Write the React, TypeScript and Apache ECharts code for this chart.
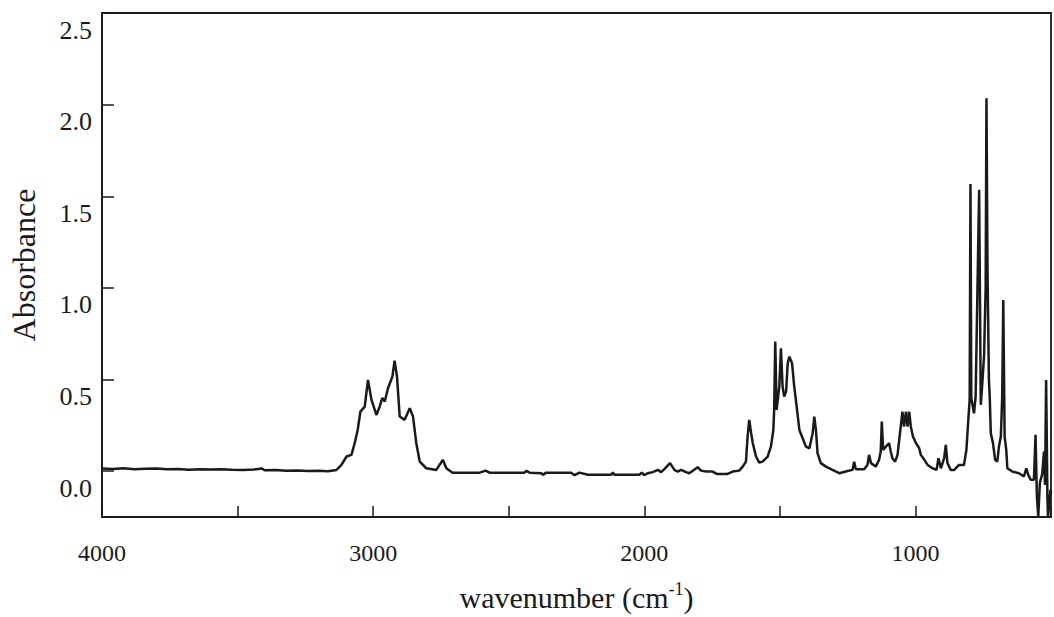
import React, { useEffect, useRef } from "react";
import * as echarts from "echarts";

const wavenumbers: number[] = [
  4000, 3960, 3920, 3880, 3840, 3800, 3760, 3720, 3680, 3640, 3600, 3560, 3520, 3480, 3440, 3410, 3400, 3360,
  3320, 3280, 3240, 3200, 3167, 3135, 3117, 3098, 3080, 3068, 3057, 3047, 3031, 3019, 3006, 2988, 2976, 2966,
  2957, 2945, 2929, 2921, 2912, 2902, 2884, 2865, 2853, 2841, 2828, 2804, 2767, 2743, 2730, 2707, 2607, 2585,
  2571, 2442, 2435, 2423, 2380, 2374, 2362, 2270, 2257, 2239, 2208, 2122, 2116, 2110, 2018, 2009, 2000, 1987,
  1969, 1950, 1938, 1926, 1905, 1889, 1877, 1864, 1846, 1834, 1803, 1791, 1772, 1748, 1733, 1693, 1674, 1650,
  1637, 1625, 1619, 1613, 1606, 1600, 1588, 1576, 1564, 1545, 1533, 1524, 1521, 1517, 1512, 1502, 1496, 1490,
  1484, 1477, 1471, 1465, 1455, 1447, 1438, 1428, 1416, 1404, 1391, 1379, 1373, 1367, 1361, 1349, 1330, 1306,
  1281, 1257, 1232, 1226, 1220, 1189, 1177, 1171, 1164, 1146, 1134, 1128, 1124, 1119, 1109, 1097, 1091, 1085,
  1075, 1066, 1057, 1048, 1042, 1035, 1029, 1023, 1017, 1009, 998, 986, 980, 967, 955, 937, 922, 915, 906, 894,
  888, 882, 870, 857, 839, 821, 812, 805, 800, 797, 794, 784, 778, 765, 759, 755, 747, 741, 738, 734, 729, 726,
  722, 714, 706, 698, 692, 685, 680, 676, 671, 665, 661, 643, 618, 600, 591, 584, 575, 563, 557, 552, 547, 541,
  532, 526, 522, 518, 513, 511, 502, 500,
];

// Absorbance read at each wavenumber above
const absorbance: number[] = [
  0.014, 0.012, 0.016, 0.011, 0.013, 0.015, 0.01, 0.012, 0.008, 0.01, 0.009, 0.011, 0.008, 0.006, 0.009, 0.014, 0.005, 0.006,
  0.003, 0.004, 0.001, 0.002, 0.0, 0.007, 0.034, 0.08, 0.089, 0.154, 0.225, 0.325, 0.352, 0.498, 0.389, 0.307, 0.352, 0.4,
  0.38, 0.454, 0.516, 0.603, 0.516, 0.298, 0.28, 0.344, 0.298, 0.154, 0.052, 0.016, 0.007, 0.062, 0.016, -0.008, -0.008, 0.003,
  -0.008, -0.008, 0.002, -0.008, -0.011, -0.02, -0.008, -0.008, -0.022, -0.008, -0.019, -0.019, -0.008, -0.019, -0.019, -0.008, -0.022, -0.011,
  -0.005, 0.007, -0.005, 0.011, 0.044, 0.007, -0.002, 0.007, -0.005, -0.011, 0.022, 0.003, -0.002, -0.002, -0.015, -0.015, -0.002, 0.003,
  0.025, 0.052, 0.189, 0.28, 0.209, 0.154, 0.08, 0.047, 0.052, 0.08, 0.134, 0.225, 0.334, 0.707, 0.334, 0.462, 0.671, 0.462,
  0.407, 0.434, 0.589, 0.625, 0.589, 0.462, 0.352, 0.225, 0.18, 0.134, 0.125, 0.207, 0.298, 0.225, 0.098, 0.044, 0.025, 0.007,
  -0.011, -0.002, 0.007, 0.052, 0.011, 0.011, 0.034, 0.089, 0.044, 0.025, 0.062, 0.107, 0.271, 0.116, 0.134, 0.153, 0.107, 0.071,
  0.052, 0.089, 0.207, 0.325, 0.243, 0.325, 0.243, 0.325, 0.243, 0.189, 0.153, 0.125, 0.089, 0.062, 0.034, 0.016, 0.007, 0.071, 0.016, 0.071,
  0.143, 0.045, 0.007, 0.007, 0.034, 0.034, 0.116, 0.28, 0.389, 1.567, 0.4, 0.316, 0.407, 1.535, 0.362, 0.444, 0.625, 1.0, 2.035, 1.08, 0.5, 0.407,
  0.207, 0.153, 0.062, 0.052, 0.134, 0.189, 0.4, 0.934, 0.189, 0.116, 0.016, -0.002, -0.011, -0.029, 0.016, -0.02, -0.047, -0.047, 0.198, -0.139, -0.248, -0.064,
  -0.011, 0.107, -0.075, 0.498, -0.157, -0.25, -0.102, -0.12,
];

// Axis ranges and tick settings
const xRange: number[] = [500, 4000];
const yRange: number[] = [-0.25, 2.5];
const xTickStep = 500;
const xLabelStep = 1000;
const yLabelStep = 0.5;

const FONT = "Liberation Serif";
const INK = "#1a1a1a";

export default function App() {
  const ref = useRef<HTMLDivElement>(null);

  useEffect(() => {
    if (!ref.current) return;
    const chart = echarts.init(ref.current, undefined, { renderer: "svg" });
    const data = wavenumbers.map((w, i) => [w, absorbance[i]]);
    chart.setOption({
      animation: false,
      backgroundColor: "#ffffff",
      grid: {
        left: 102,
        right: 2,
        top: 13,
        bottom: 100,
        show: true,
        borderColor: INK,
        borderWidth: 1.8,
        backgroundColor: "transparent",
      },
      xAxis: {
        type: "value",
        min: xRange[0],
        max: xRange[1],
        inverse: true,
        interval: xTickStep,
        splitLine: { show: false },
        axisLine: { show: true, onZero: false, lineStyle: { color: INK, width: 1.8 } },
        axisTick: { show: true, inside: true, length: 11, lineStyle: { color: INK, width: 1.5 } },
        axisLabel: {
          margin: 24,
          formatter: (v: number) => (v % xLabelStep === 0 ? `{v|${v}}` : ""),
          rich: {
            v: { fontFamily: FONT, fontSize: 24, color: INK },
          },
        },
        name: "{t|wavenumber (cm}{s|-1}{t|)}",
        nameLocation: "middle",
        nameGap: 63,
        nameTextStyle: {
          rich: {
            t: { fontFamily: FONT, fontSize: 30, color: INK, lineHeight: 34 },
            s: { fontFamily: FONT, fontSize: 18, color: INK, verticalAlign: "top", lineHeight: 20 },
          },
        },
      },
      yAxis: {
        type: "value",
        min: yRange[0],
        max: yRange[1],
        splitLine: { show: false },
        axisLine: { show: true, onZero: false, lineStyle: { color: INK, width: 1.8 } },
        axisTick: { show: true, inside: true, length: 12, lineStyle: { color: INK, width: 1.5 } },
        axisLabel: {
          margin: 10,
          verticalAlign: "top",
          formatter: (v: number) =>
            Math.abs(v / yLabelStep - Math.round(v / yLabelStep)) < 1e-6 ? `{v|${v.toFixed(1)}}` : "",
          rich: {
            v: { fontFamily: FONT, fontSize: 26, color: INK, lineHeight: 34 },
          },
        },
        name: "Absorbance",
        nameLocation: "middle",
        nameGap: 62,
        nameTextStyle: { fontFamily: FONT, fontSize: 32, color: INK },
      },
      series: [
        {
          type: "line",
          data,
          showSymbol: false,
          clip: true,
          lineStyle: { color: INK, width: 2.5 },
        },
      ],
    });
    return () => chart.dispose();
  }, []);

  return (
    <div
      ref={ref}
      style={{ position: "absolute", left: 0, top: 0, width: 1054, height: 617 }}
    />
  );
}
